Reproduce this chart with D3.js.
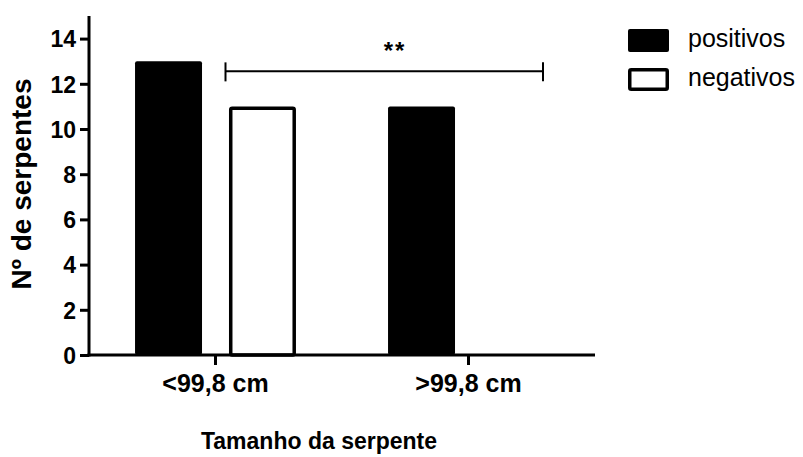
<!DOCTYPE html>
<html>
<head>
<meta charset="utf-8">
<script src="https://cdn.jsdelivr.net/npm/d3@7"></script>
<style>
  html, body { margin: 0; padding: 0; background: #fff; }
  svg { display: block; }
  text { font-family: Arial, "Liberation Sans", sans-serif; fill: #000; }
</style>
</head>
<body>
<script>
// Snake counts by size group and test result
const categories = ["<99,8 cm", ">99,8 cm"];
const seriesNames = ["positivos", "negativos"];
const positivos = [13, 11];
const negativos = [11, 0];
const yTicks = [0, 2, 4, 6, 8, 10, 12, 14];
const yTitle = "Nº de serpentes";
const xTitle = "Tamanho da serpente";
const significance = "**";

const W = 803, H = 457;
const mLeft = 89, mRight = 595, mTop = 16, mBottom = 355;

const svg = d3.select("body").append("svg")
  .attr("width", W).attr("height", H);

const y = d3.scaleLinear().domain([0, 15]).range([mBottom, mTop]);
const x0 = d3.scaleBand().domain(categories).range([mLeft, mRight]);
const x1 = d3.scaleBand().domain(seriesNames).range([0, x0.bandwidth()])
  .paddingInner(0.287).paddingOuter(0.49);

const rows = categories.map((c, i) => ({
  cat: c,
  vals: [
    { key: "positivos", v: positivos[i] },
    { key: "negativos", v: negativos[i] }
  ]
}));

// bars: filled for positives, outlined for negatives
const g = svg.append("g");
const sw = 3.5;
rows.forEach(r => {
  r.vals.forEach(d => {
    if (d.v <= 0) return;
    const bx = x0(r.cat) + x1(d.key);
    const bw = x1.bandwidth();
    if (d.key === "positivos") {
      g.append("rect")
        .attr("x", bx).attr("y", y(d.v))
        .attr("width", bw).attr("height", y(0) - y(d.v))
        .attr("rx", 2).attr("fill", "#000");
    } else {
      g.append("rect")
        .attr("x", bx + sw / 2).attr("y", y(d.v) + sw / 2)
        .attr("width", bw - sw).attr("height", y(0) - y(d.v) - sw / 2)
        .attr("rx", 1.5).attr("fill", "#fff")
        .attr("stroke", "#000").attr("stroke-width", sw);
    }
  });
});

// y axis
const yAxis = svg.append("g")
  .attr("transform", `translate(${mLeft},0)`)
  .call(d3.axisLeft(y).tickValues(yTicks).tickSize(9).tickPadding(4).tickSizeOuter(0));
yAxis.select(".domain").attr("stroke-width", 3).attr("d", `M0,${mTop}V${mBottom + 1.5}`);
yAxis.selectAll(".tick line").attr("stroke-width", 3);
yAxis.selectAll(".tick text")
  .style("font-size", "23px").style("font-weight", "bold")
  .attr("dy", "0.36em");

// x axis
const xAxis = svg.append("g")
  .attr("transform", `translate(0,${mBottom})`)
  .call(d3.axisBottom(x0).tickSize(10).tickSizeOuter(0));
xAxis.select(".domain").attr("stroke-width", 3).attr("d", `M${mLeft - 1.5},0H${mRight}`);
xAxis.selectAll(".tick line").attr("stroke-width", 3);
xAxis.selectAll(".tick text")
  .style("font-size", "25px").style("font-weight", "bold")
  .attr("y", 37).attr("dy", 0);

// axis titles
svg.append("text")
  .attr("transform", `translate(31,184) rotate(-90)`)
  .attr("text-anchor", "middle")
  .style("font-size", "28px").style("font-weight", "bold")
  .text(yTitle);

svg.append("text")
  .attr("x", 319).attr("y", 449)
  .attr("text-anchor", "middle")
  .style("font-size", "23px").style("font-weight", "bold")
  .text(xTitle);

// significance bracket between the two groups
const bx0 = x0(categories[0]) + x0.bandwidth() / 2 + 10;
const bx1 = mRight - 52;
const by = y(12.55);
const br = svg.append("g").attr("stroke", "#000").attr("stroke-width", 2);
br.append("line").attr("x1", bx0).attr("x2", bx1).attr("y1", by).attr("y2", by);
br.append("line").attr("x1", bx0).attr("x2", bx0).attr("y1", by - 9).attr("y2", by + 10);
br.append("line").attr("x1", bx1).attr("x2", bx1).attr("y1", by - 9).attr("y2", by + 10);
svg.append("text")
  .attr("x", 395).attr("y", 59)
  .attr("text-anchor", "middle")
  .style("font-size", "24px").style("font-weight", "bold")
  .style("letter-spacing", "2px")
  .text(significance);

// legend
const legend = svg.append("g").attr("transform", "translate(628,29)");
seriesNames.forEach((name, i) => {
  const ly = i * 39;
  if (i === 0) {
    legend.append("rect").attr("x", 0).attr("y", ly).attr("width", 41).attr("height", 23)
      .attr("rx", 2).attr("fill", "#000");
  } else {
    legend.append("rect").attr("x", 1.75).attr("y", ly + 1.75).attr("width", 37.5).attr("height", 19.5)
      .attr("rx", 1.5).attr("fill", "#fff").attr("stroke", "#000").attr("stroke-width", 3.5);
  }
  legend.append("text")
    .attr("x", 60).attr("y", ly + 18)
    .style("font-size", "25px")
    .text(name);
});
</script>
</body>
</html>
